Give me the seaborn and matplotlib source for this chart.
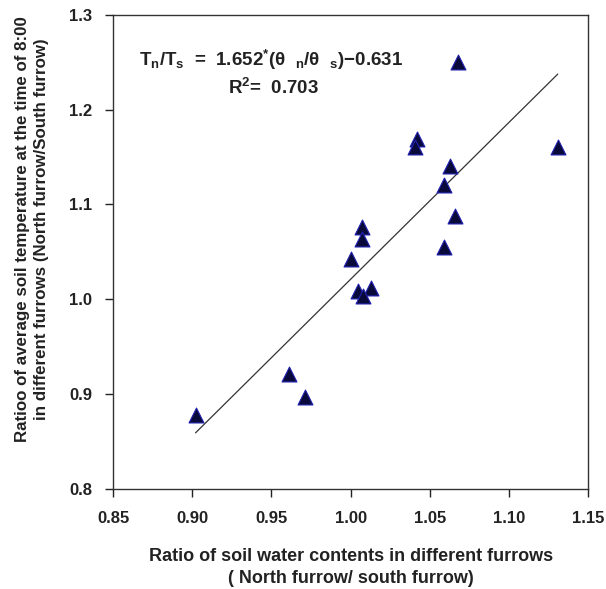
import numpy as np
import pandas as pd
import matplotlib
matplotlib.use("Agg")
import matplotlib.pyplot as plt
import seaborn as sns

# Ratio of soil water contents (north / south furrow)
water_ratio = [1.068, 1.042, 1.041, 1.131, 1.063, 1.059, 1.066, 1.059,
               1.007, 1.007, 1.000, 1.005, 1.013, 1.008, 0.961, 0.971, 0.902]
# Ratio of average soil temperature at 8:00 (north / south furrow)
temp_ratio = [1.250, 1.169, 1.160, 1.161, 1.141, 1.120, 1.088, 1.055,
              1.076, 1.064, 1.042, 1.009, 1.012, 1.003, 0.921, 0.897, 0.878]

slope = 1.652
intercept = -0.631
r_squared = 0.703

x_ticks = [0.85, 0.90, 0.95, 1.00, 1.05, 1.10, 1.15]
y_ticks = [0.8, 0.9, 1.0, 1.1, 1.2, 1.3]

sns.set_theme(style="ticks")
plt.rcParams["font.family"] = ["Liberation Sans", "DejaVu Sans"]
plt.rcParams["font.weight"] = "bold"
plt.rcParams["mathtext.fontset"] = "custom"
plt.rcParams["mathtext.rm"] = "Liberation Sans:bold"
plt.rcParams["mathtext.bf"] = "Liberation Sans:bold"
plt.rcParams["mathtext.it"] = "Liberation Sans:bold"
plt.rcParams["mathtext.sf"] = "Liberation Sans:bold"

df = pd.DataFrame({"water": water_ratio, "temp": temp_ratio})
fit_x = [min(water_ratio), max(water_ratio)]
fit = pd.DataFrame({"water": fit_x,
                    "temp": [slope * v + intercept for v in fit_x]})

fig = plt.figure(figsize=(6.06, 5.89), dpi=100)
ax = fig.add_axes([0.187, 0.170, 0.783, 0.805])

sns.lineplot(data=fit, x="water", y="temp", ax=ax, color="#333333",
             linewidth=0.9, legend=False)
sns.scatterplot(data=df, x="water", y="temp", ax=ax, marker="^", s=115,
                color="#0a0a3a", edgecolor="#2020b0", linewidth=0.8,
                legend=False, zorder=3)

ax.set_xlim(0.85, 1.15)
ax.set_ylim(0.8, 1.3)
ax.set_xticks(x_ticks)
ax.set_yticks(y_ticks)
ax.set_xticklabels([f"{v:.2f}" for v in x_ticks])
ax.set_yticklabels([f"{v:.1f}" for v in y_ticks])
ax.tick_params(axis="both", direction="out", length=6, width=1,
               labelsize=12, colors="#222222")
ax.tick_params(axis="y", pad=9)
ax.tick_params(axis="x", pad=10)
for lab in ax.get_xticklabels() + ax.get_yticklabels():
    lab.set_fontweight("bold")
for sp in ax.spines.values():
    sp.set_visible(True)
    sp.set_linewidth(1.0)
    sp.set_color("#333333")

ax.set_xlabel("Ratio of soil water contents in different furrows\n( North furrow/ south furrow)",
              fontsize=13, fontweight="bold", labelpad=16, color="#222222",
              linespacing=1.35)
ax.set_ylabel("Ratioo of average soil temperature at the time of 8:00\nin different furrows (North furrow/South furrow)",
              fontsize=12.2, fontweight="bold", color="#222222",
              linespacing=1.35)
ax.yaxis.set_label_coords(-0.135, 0.548)

eq = (r"T$_{\mathrm{n}}$/T$_{\mathrm{s}}$  =  " + f"{slope:.3f}" +
      r"$^{*}$(θ  $_{\mathrm{n}}$/θ  $_{\mathrm{s}}$)" + r"$-$" + f"{-intercept:.3f}")
ax.text(0.054, 0.904, eq, transform=ax.transAxes, fontsize=13.5,
        fontweight="bold", color="#222222", va="center", ha="left")
ax.text(0.242, 0.845, r"R$^{2}$=  " + f"{r_squared:.3f}", transform=ax.transAxes,
        fontsize=13.5, fontweight="bold", color="#222222", va="center", ha="left")

fig.savefig("out.png", dpi=100)
